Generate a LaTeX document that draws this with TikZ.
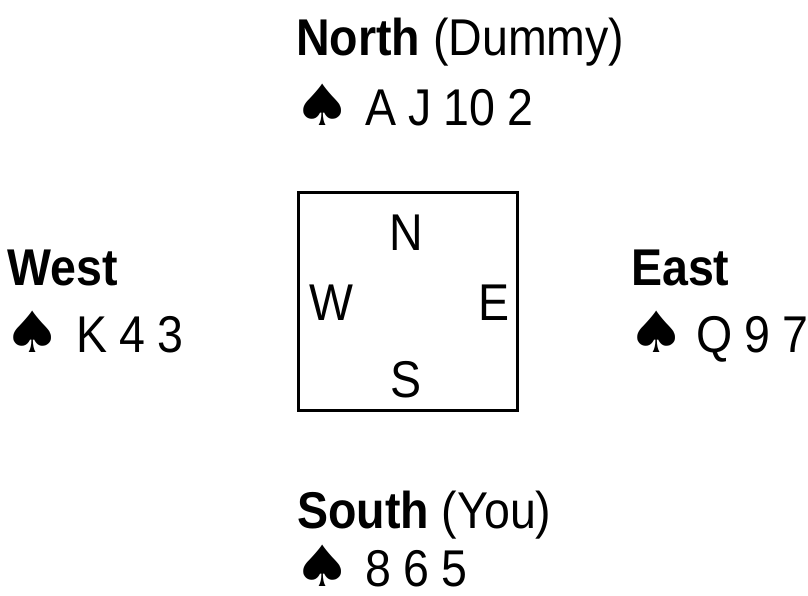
\documentclass[tikz,border=0pt]{standalone}
\usepackage{fontspec}
\setmainfont{Liberation Sans}[FakeStretch=0.9]
\newfontfamily\suitfont{DejaVu Sans}
\newcommand\spd{\scalebox{1.12}[0.98]{\suitfont\fontsize{58}{60}\selectfont ♠}}
\tikzset{
  lbl/.style={anchor=base west, inner sep=0pt, font=\fontsize{51.7}{60}\selectfont},
  cards/.style={lbl, text depth=0pt, execute at begin node={\spaceskip=12pt plus 1pt}},
  dirl/.style={anchor=base, inner sep=0pt, font=\fontsize{51.7}{60}\selectfont},
  tablebox/.style={draw, line width=3pt, minimum width=219pt, minimum height=218pt, inner sep=0pt}
}
\begin{document}
\begin{tikzpicture}[x=1pt,y=-1pt]
\useasboundingbox (0,0) rectangle (808,595);
\node[lbl] (north) at (296,55) {\textbf{North} (Dummy)};
\node[cards] (northcards) at (293,125) {\spd\hspace{14pt}A J 10 2};
\node[lbl] (west) at (7,285) {\textbf{West}};
\node[cards] (westcards) at (3,352) {\spd\hspace{15pt}K 4 3};
\node[lbl] (east) at (631,285) {\textbf{East}};
\node[cards] (eastcards) at (627,352) {\spd\hspace{11pt}Q 9 7};
\node[lbl] (south) at (297,528) {\textbf{South} (You)};
\node[cards] (southcards) at (293,586) {\spd\hspace{14pt}8 6 5};
\node[tablebox] (table) at (407.5,301) {};
\node[dirl] (n) at (406,250) {N};
\node[dirl] (w) at (331,320) {W};
\node[dirl] (e) at (494,320) {E};
\node[dirl] (s) at (406,397) {S};
\end{tikzpicture}
\end{document}
